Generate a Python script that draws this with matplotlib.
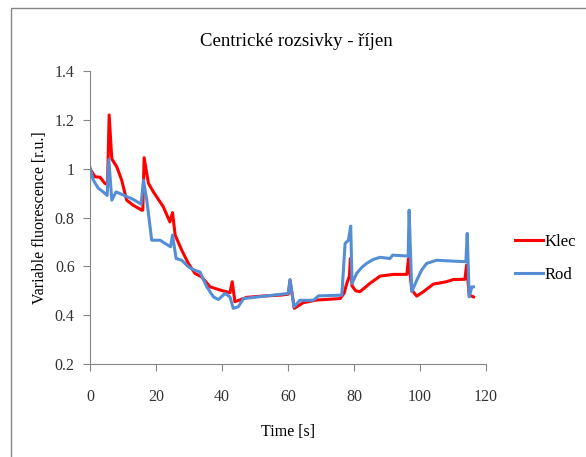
import matplotlib.pyplot as plt
from matplotlib.patches import Rectangle

# Fluorescence traces, October
klec_t = [0, 1.5, 3.0, 4.5, 5.3, 5.8, 6.6, 8.1, 9.6, 11.1,
          13.1, 15.7, 16.0, 16.4, 17.7, 19.2, 22.2, 24.2, 25.0, 25.8,
          27.8, 29.8, 31.8, 33.8, 36.4, 39.4, 42.4, 43.1, 43.9, 47.5,
          52.0, 57.6, 60.1, 60.6, 61.9, 64.6, 68.7, 75.8, 77.0, 77.8,
          78.6, 78.9, 79.4, 80.5, 81.8, 84.8, 87.9, 91.9, 96.0, 96.5,
          97.5, 99.0, 101.0, 104.0, 108.0, 110.1, 113.6, 114.1, 114.9, 116.2]
klec_v = [1.0, 0.967, 0.965, 0.94, 0.935, 1.22, 1.04, 1.008, 0.953, 0.871,
          0.85, 0.83, 0.83, 1.045, 0.94, 0.905, 0.844, 0.782, 0.82, 0.728,
          0.666, 0.612, 0.571, 0.557, 0.516, 0.503, 0.492, 0.537, 0.455, 0.473,
          0.478, 0.482, 0.486, 0.543, 0.428, 0.451, 0.462, 0.468, 0.49, 0.53,
          0.56, 0.632, 0.52, 0.50, 0.496, 0.53, 0.56, 0.567, 0.567, 0.632,
          0.503, 0.478, 0.496, 0.527, 0.537, 0.546, 0.547, 0.605, 0.482, 0.475]

rod_t = [0, 1.0, 2.5, 4.0, 5.2, 5.7, 6.6, 7.9, 10.1, 13.1,
         15.5, 16.2, 17.2, 18.7, 21.2, 24.4, 25.0, 26.1, 27.8, 29.8,
         31.5, 33.3, 35.4, 37.4, 38.9, 40.9, 42.4, 43.4, 44.9, 46.5,
         53.5, 60.1, 60.6, 61.8, 63.6, 67.7, 69.2, 76.3, 77.3, 78.3,
         79.0, 79.4, 80.8, 82.3, 83.8, 85.8, 87.9, 90.9, 91.7, 96.4,
         96.7, 97.5, 99.0, 100.5, 102.0, 105.0, 109.1, 113.9, 114.3, 114.9,
         115.7, 116.2]
rod_v = [1.005, 0.953, 0.92, 0.905, 0.89, 1.038, 0.871, 0.905, 0.892, 0.874,
         0.855, 0.953, 0.871, 0.707, 0.707, 0.68, 0.728, 0.632, 0.625, 0.598,
         0.585, 0.577, 0.516, 0.475, 0.464, 0.489, 0.475, 0.428, 0.434, 0.468,
         0.479, 0.489, 0.546, 0.434, 0.461, 0.461, 0.479, 0.482, 0.694, 0.707,
         0.765, 0.53, 0.571, 0.595, 0.612, 0.628, 0.637, 0.632, 0.646, 0.642,
         0.83, 0.496, 0.543, 0.585, 0.612, 0.625, 0.622, 0.619, 0.735, 0.475,
         0.516, 0.516]

x_ticks = [0, 20, 40, 60, 80, 100, 120]
y_ticks = [0.2, 0.4, 0.6, 0.8, 1.0, 1.2, 1.4]
y_labels = ["0.2", "0.4", "0.6", "0.8", "1", "1.2", "1.4"]

plt.rcParams['font.family'] = ['Liberation Serif', 'DejaVu Serif']
grey = '#868686'

fig = plt.figure(figsize=(5.86, 4.57), dpi=100)
ax = fig.add_axes([0.1536, 0.2035, 0.6758, 0.6411])

# chart-area border (runs off the right and bottom edge)
fig.patches.append(Rectangle((11 / 586, -0.2), 1.2, 1 - 8 / 457 + 0.2,
                             transform=fig.transFigure, fill=False,
                             edgecolor=grey, linewidth=1.0))

ax.plot(klec_t, klec_v, color='#FF0000', linewidth=2.2, label='Klec')
ax.plot(rod_t, rod_v, color='#558ED5', linewidth=2.2, label='Rod')

ax.set_xlim(0, 120)
ax.set_ylim(0.2, 1.4)
ax.set_xticks(x_ticks)
ax.set_yticks(y_ticks)
ax.set_yticklabels(y_labels)

for side in ['top', 'right']:
    ax.spines[side].set_visible(False)
for side in ['left', 'bottom']:
    ax.spines[side].set_color(grey)
ax.tick_params(direction='out', length=5, color=grey, labelsize=11.5,
               labelcolor='#333333')
ax.tick_params(axis='x', pad=13)
ax.tick_params(axis='y', pad=6)

ax.set_title('Centrické rozsivky - říjen', fontsize=13.5, pad=18, x=0.52)
ax.set_xlabel('Time [s]', fontsize=11.5, labelpad=14)
ax.set_ylabel('Variable fluorescence [r.u.]', fontsize=11.5, labelpad=5)

ax.legend(loc='center left', bbox_to_anchor=(1.073, 0.36), frameon=False,
          fontsize=12, handlelength=1.7, handletextpad=0.1, labelspacing=1.0,
          borderpad=0, borderaxespad=0)

fig.savefig('out.png', dpi=100)
